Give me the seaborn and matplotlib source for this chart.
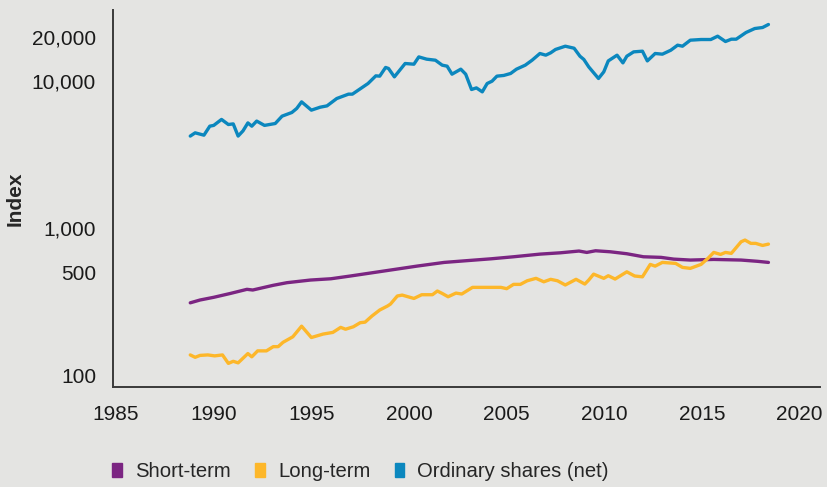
import matplotlib
matplotlib.use("Agg")
import matplotlib.pyplot as plt
import matplotlib.patches as mpatches
import seaborn as sns
import pandas as pd

# values (index, log scale)
short_years = [1988.8, 1989.3, 1990.0, 1990.85, 1991.7, 1992.0, 1993.05, 1993.75, 1994.95,
               1996.0, 1997.0, 1998.7, 2000.4, 2001.8, 2003.15, 2004.2, 2005.35, 2006.7,
               2007.75, 2008.7, 2009.1, 2009.55, 2010.3, 2011.15, 2012.0, 2012.9, 2013.55,
               2014.4, 2015.6, 2017.0, 2017.85, 2018.4]
short_vals = [310, 324, 338, 359, 383, 379, 408, 425, 443,
              452, 472, 510, 551, 584, 603, 618, 638, 665,
              679, 698, 683, 701, 690, 669, 638, 632, 615,
              606, 612, 606, 594, 584]

long_years = [1988.8, 1989.05, 1989.3, 1989.7, 1990.05, 1990.45, 1990.75, 1991.0, 1991.25,
              1991.75, 1991.95, 1992.25, 1992.7, 1993.05, 1993.3, 1993.55, 1994.05, 1994.5,
              1995.0, 1995.6, 1996.1, 1996.5, 1996.75, 1997.15, 1997.5, 1997.75, 1998.1,
              1998.5, 1998.9, 1999.05, 1999.4, 1999.65, 2000.25, 2000.65, 2001.2, 2001.45,
              2001.7, 2002.0, 2002.4, 2002.7, 2003.25, 2004.2, 2004.7, 2005.0, 2005.35,
              2005.7, 2006.05, 2006.5, 2006.9, 2007.25, 2007.6, 2008.0, 2008.55, 2009.0,
              2009.2, 2009.45, 2009.97, 2010.2, 2010.55, 2011.15, 2011.55, 2011.95, 2012.35,
              2012.6, 2012.97, 2013.65, 2014.0, 2014.4, 2014.95, 2015.3, 2015.6, 2015.95,
              2016.2, 2016.5, 2017.0, 2017.2, 2017.5, 2017.75, 2018.1, 2018.4]
long_vals = [137, 132, 136, 137, 135, 137, 120, 124, 121,
             140, 133, 146, 146, 156, 156, 167, 182, 215,
             180, 190, 195, 211, 205, 213, 227, 229, 252,
             277, 295, 304, 345, 350, 332, 352, 352, 373,
             359, 341, 361, 356, 395, 395, 395, 387, 414,
             414, 438, 455, 431, 448, 438, 410, 448, 416,
             443, 486, 455, 474, 450, 504, 472, 466, 566,
             551, 584, 575, 540, 532, 566, 622, 683, 662,
             683, 673, 807, 829, 787, 787, 762, 778]

shares_years = [1988.8, 1989.05, 1989.5, 1989.8, 1990.0, 1990.4, 1990.75, 1991.0, 1991.25,
                1991.5, 1991.75, 1991.95, 1992.2, 1992.6, 1993.15, 1993.5, 1994.0, 1994.25,
                1994.5, 1995.0, 1995.45, 1995.8, 1996.3, 1996.9, 1997.1, 1997.9, 1998.3,
                1998.5, 1998.8, 1998.95, 1999.25, 1999.8, 2000.25, 2000.5, 2000.9, 2001.35,
                2001.7, 2001.95, 2002.2, 2002.65, 2002.9, 2003.2, 2003.45, 2003.75, 2004.0,
                2004.25, 2004.5, 2004.85, 2005.2, 2005.5, 2005.95, 2006.3, 2006.7, 2007.0,
                2007.25, 2007.5, 2008.0, 2008.45, 2008.75, 2008.95, 2009.2, 2009.7, 2009.97,
                2010.2, 2010.65, 2010.95, 2011.15, 2011.5, 2011.95, 2012.2, 2012.6, 2012.97,
                2013.4, 2013.75, 2014.0, 2014.4, 2014.95, 2015.45, 2015.8, 2016.2, 2016.5,
                2016.75, 2017.25, 2017.7, 2018.1, 2018.4]
shares_vals = [4230, 4450, 4290, 4940, 5000, 5490, 5070, 5120, 4230,
               4590, 5200, 4940, 5350, 5000, 5150, 5780, 6120, 6520,
               7230, 6350, 6650, 6790, 7620, 8160, 8160, 9640, 10870,
               10820, 12400, 12200, 10700, 13190, 13050, 14630, 14120, 13890,
               12850, 12650, 11160, 12070, 11160, 8780, 9000, 8460, 9640,
               10000, 10820, 10940, 11280, 12070, 12850, 13890, 15430, 15030,
               15590, 16440, 17300, 16760, 14790, 14050, 12510, 10430, 11570,
               13740, 15030, 13320, 14790, 15830, 16000, 13740, 15430, 15270,
               16240, 17580, 17300, 19010, 19210, 19210, 20240, 18620, 19310,
               19310, 21440, 22820, 23190, 24310]

series_names = ["Short-term", "Long-term", "Ordinary shares (net)"]
colors = ["#7b2582", "#fdb72a", "#0b87be"]
x_ticks = [1985, 1990, 1995, 2000, 2005, 2010, 2015, 2020]
y_ticks = [100, 500, 1000, 10000, 20000]

df = pd.concat([
    pd.DataFrame({"year": short_years, "value": short_vals, "series": series_names[0]}),
    pd.DataFrame({"year": long_years, "value": long_vals, "series": series_names[1]}),
    pd.DataFrame({"year": shares_years, "value": shares_vals, "series": series_names[2]}),
])

bg = "#e4e4e2"
sns.set_style("ticks", {"axes.facecolor": bg, "figure.facecolor": bg})
plt.rcParams["font.family"] = ["Liberation Sans", "DejaVu Sans"]

fig = plt.figure(figsize=(8.27, 4.87), dpi=100)
ax = fig.add_axes([0.1363, 0.206, 0.855, 0.773])

sns.lineplot(data=df, x="year", y="value", hue="series", hue_order=series_names,
             palette=colors, linewidth=2.4, legend=False, ax=ax)

ax.set_yscale("log")
ax.set_xlim(1984.83, 2021.03)
ax.set_ylim(83.3, 30400)
ax.set_xticks(x_ticks)
ax.set_xticklabels([str(t) for t in x_ticks])
ax.set_yticks(y_ticks)
ax.set_yticklabels([f"{t:,}" for t in y_ticks])
ax.minorticks_off()
ax.tick_params(axis="both", length=0, labelsize=15, colors="#1a1a1a")
ax.tick_params(axis="y", pad=12)
ax.tick_params(axis="x", pad=13)
ax.set_xlabel("")
ax.set_ylabel("Index", fontsize=15, fontweight="bold")
ax.yaxis.set_label_coords(-0.124, 0.5)

for s in ["top", "right"]:
    ax.spines[s].set_visible(False)
for s in ["left", "bottom"]:
    ax.spines[s].set_color("#3a3a3a")
    ax.spines[s].set_linewidth(1.4)

handles = [mpatches.Patch(color=c, label=n) for c, n in zip(colors, series_names)]
fig.legend(handles=handles, loc="center left", bbox_to_anchor=(0.136, 0.031),
           ncol=3, frameon=False, fontsize=14.6, handlelength=0.47, handleheight=0.68,
           handletextpad=0.65, columnspacing=1.2, borderaxespad=0, borderpad=0)

fig.savefig("out.png", dpi=100, facecolor=bg)
